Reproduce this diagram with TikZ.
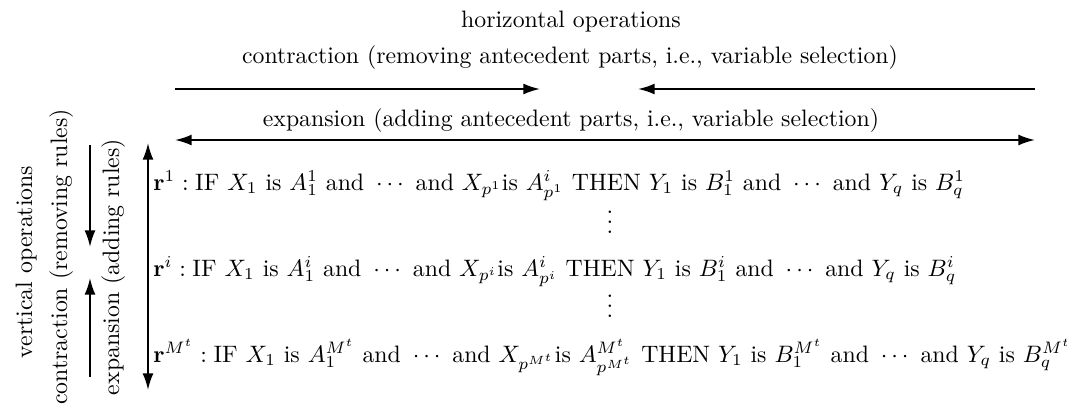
\documentclass[tikz,border=0pt]{standalone}
\usepackage{amsmath}
\usetikzlibrary{arrows.meta}
\begin{document}
\begin{tikzpicture}[x=0.4205pt,y=-0.4205pt,
  arr/.style={line width=0.8pt,-{Latex[length=7pt,width=4.6pt]}},
  darr/.style={line width=0.8pt,{Latex[length=7pt,width=4.6pt]}-{Latex[length=7pt,width=4.6pt]}},
  lbl/.style={inner sep=0pt,anchor=base},
  rulerow/.style={inner sep=0pt,anchor=base west}]
\useasboundingbox (0,0) rectangle (1067,414);
% top labels
\node[lbl] (hop) at (571,27) {horizontal operations};
\node[lbl] (hcon) at (570,63) {contraction (removing antecedent parts, i.e., variable selection)};
\node[lbl] (hexp) at (571,126) {expansion (adding antecedent parts, i.e., variable selection)};
% horizontal arrows
\coordinate (hc1s) at (175,89);
\coordinate (hc1e) at (540,89);
\coordinate (hc2s) at (1035,89);
\coordinate (hc2e) at (638,89);
\draw[arr] (hc1s) -- (hc1e);
\draw[arr] (hc2s) -- (hc2e);
\coordinate (hes) at (175,140);
\coordinate (hee) at (1035,140);
\draw[darr] (hes) -- (hee);
% vertical labels
\node[lbl,rotate=90] (vop) at (32,262) {vertical operations};
\node[lbl,rotate=90] (vcon) at (67,257) {contraction (removing rules)};
\node[lbl,rotate=90] (vexp) at (119,267) {expansion (adding rules)};
% vertical arrows
\coordinate (vc1s) at (90,145);
\coordinate (vc1e) at (90,247);
\coordinate (vc2s) at (90,377);
\coordinate (vc2e) at (90,278);
\draw[arr] (vc1s) -- (vc1e);
\draw[arr] (vc2s) -- (vc2e);
\coordinate (ves) at (148,143);
\coordinate (vee) at (148,390);
\draw[darr] (ves) -- (vee);
% rules
\node[rulerow] (r1) at (153,190) {$\mathbf{r}^1 : \text{IF }X_1\text{ is }A_1^1\text{ and }\cdots\text{ and }X_{p^1}\text{is }A_{p^1}^{i}\text{ THEN }Y_1\text{ is }B_1^1\text{ and }\cdots\text{ and }Y_q\text{ is }B_q^1$};
\node[lbl] (d1) at (610,233) {$\vdots$};
\node[rulerow] (ri) at (153,276) {$\mathbf{r}^i : \text{IF }X_1\text{ is }A_1^i\text{ and }\cdots\text{ and }X_{p^i}\text{is }A_{p^i}^{i}\text{ THEN }Y_1\text{ is }B_1^i\text{ and }\cdots\text{ and }Y_q\text{ is }B_q^i$};
\node[lbl] (d2) at (610,317) {$\vdots$};
\node[rulerow] (rM) at (153,362) {$\mathbf{r}^{M^t} : \text{IF }X_1\text{ is }A_1^{M^t}\text{ and }\cdots\text{ and }X_{p^{M^t}}\text{is }A_{p^{M^t}}^{M^t}\text{ THEN }Y_1\text{ is }B_1^{M^t}\text{ and }\cdots\text{ and }Y_q\text{ is }B_q^{M^t}$};
\end{tikzpicture}
\end{document}
